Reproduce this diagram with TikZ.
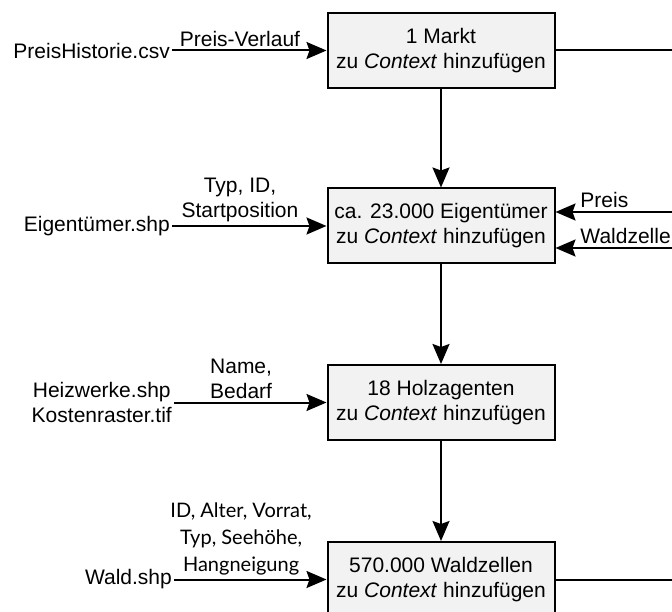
\documentclass[tikz,border=0pt]{standalone}
\usepackage{fontspec}
\setmainfont{Liberation Sans}
\newfontfamily\latofont{Lato}
\usetikzlibrary{arrows.meta}
\definecolor{boxfill}{RGB}{242,242,242}

\begin{document}
\begin{tikzpicture}[x=1pt,y=-1pt,font=\fontsize{21}{25}\selectfont,
  box/.style={draw,line width=2pt,fill=boxfill,minimum width=227pt,minimum height=75pt,align=center,inner sep=0pt},
  src/.style={anchor=east,align=center,inner sep=2pt},
  lbl/.style={above,align=center,inner sep=3pt},
  arr/.style={line width=2pt,-{Stealth[length=20pt,width=17pt,inset=3pt]}},
  ln/.style={line width=2pt}]
\useasboundingbox (0,0) rectangle (672,612);
\node[box] (markt) at (441,50.5) {1 Markt\\zu \textit{Context} hinzufügen};
\node[box] (eigen) at (441,226) {ca. 23.000 Eigentümer\\zu \textit{Context} hinzufügen};
\node[box] (holz) at (441,402.5) {18 Holzagenten\\zu \textit{Context} hinzufügen};
\node[box] (wald) at (441,579.5) {570.000 Waldzellen\\zu \textit{Context} hinzufügen};
\node[src] (csv) at (172,50.5) {PreisHistorie.csv};
\node[src] (eshp) at (172,226) {Eigentümer.shp};
\node[src] (hshp) at (174,402.5) {Heizwerke.shp\\Kostenraster.tif};
\node[src] (wshp) at (174,579.5) {Wald.shp};
\coordinate (mout) at (672,50.5);
\coordinate (wout) at (672,579.5);
\coordinate (pin) at (672,212);
\coordinate (zin) at (672,248);
\draw[arr] (csv) -- node[lbl,pos=0.44] {Preis-Verlauf} (markt);
\draw[arr] (eshp) -- node[lbl,pos=0.44] {Typ, ID,\\Startposition} (eigen);
\draw[arr] (hshp) -- node[lbl,pos=0.44,align=left] {Name,\\Bedarf} (holz);
\draw[arr] (wshp) -- node[lbl,pos=0.44,font=\latofont\fontsize{20}{27}\selectfont] {ID, Alter, Vorrat,\\Typ, Seehöhe,\\Hangneigung} (wald);
\draw[arr] (markt) -- (eigen);
\draw[arr] (eigen) -- (holz);
\draw[arr] (holz) -- (wald);
\draw[ln] (markt) -- (mout);
\draw[ln] (wald) -- (wout);
\draw[arr] (pin) -- node[lbl,anchor=south west,pos=0.82] {Preis} (pin -| eigen.east);
\draw[arr] (zin) -- node[lbl,anchor=south west,pos=0.82] {Waldzelle} (zin -| eigen.east);
\end{tikzpicture}
\end{document}
